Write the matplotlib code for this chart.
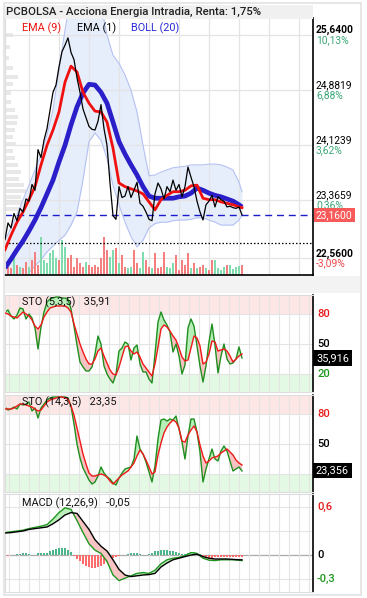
import numpy as np
import matplotlib
matplotlib.use("Agg")
import matplotlib.pyplot as plt
from matplotlib.patches import Rectangle
import matplotlib.transforms as mtransforms

plt.rcParams['font.family'] = ['Roboto', 'DejaVu Sans']

W, H = 367, 598

# ---------------- data ----------------
price = [22.82, 23.05, 22.98, 23.18, 23.08, 23.25, 23.20, 23.38, 23.35, 23.58,
         23.50, 24.06, 23.95, 24.19, 24.35, 24.60, 24.85, 24.95, 25.20, 25.41,
         25.50, 25.60, 25.40, 25.30, 25.05, 24.85, 24.62, 24.50, 24.38, 24.34,
         24.33, 24.45, 24.68, 24.35, 24.12, 23.60, 23.15, 23.10, 23.55, 23.40,
         23.42, 23.55, 23.40, 23.50, 23.61, 23.32, 23.28, 23.20, 23.10, 23.08,
         23.45, 23.60, 23.52, 23.38, 23.55, 23.48, 23.64, 23.50, 23.58, 23.41,
         23.55, 23.82, 23.68, 23.55, 23.35, 23.20, 23.09, 23.30, 23.35, 23.43,
         23.27, 23.41, 23.37, 23.35, 23.27, 23.28, 23.26, 23.25, 23.27, 23.16]

smooth_idx = list(range(0, 80, 2)) + [79]
ema9 = [22.68, 22.88, 23.06, 23.20, 23.37, 23.55, 23.85, 24.12, 24.33, 24.58,
        24.99, 25.21, 25.13, 24.85, 24.70, 24.59, 24.58, 24.44, 24.08, 23.60,
        23.55, 23.52, 23.49, 23.45, 23.34, 23.23, 23.37, 23.43, 23.48, 23.48,
        23.50, 23.56, 23.57, 23.39, 23.37, 23.37, 23.34, 23.32, 23.30, 23.27, 23.26]
boll_mid = [22.43, 22.55, 22.68, 22.80, 22.94, 23.09, 23.26, 23.45, 23.64, 23.89,
            24.12, 24.40, 24.65, 24.84, 24.96, 24.95, 24.85, 24.70, 24.44, 24.17,
            24.00, 23.85, 23.71, 23.55, 23.42, 23.39, 23.39, 23.39, 23.39, 23.41,
            23.42, 23.46, 23.53, 23.50, 23.46, 23.43, 23.41, 23.38, 23.35, 23.30, 23.27]
boll_up = [22.81, 22.98, 23.16, 23.37, 23.57, 23.78, 23.99, 24.26, 24.61, 25.16,
           25.71, 26.19, 26.40, 26.47, 26.47, 26.33, 26.05, 25.64, 25.36, 25.25,
           25.09, 24.88, 24.58, 24.12, 23.70, 23.71, 23.75, 23.78, 23.81, 23.82,
           23.83, 23.85, 23.85, 23.85, 23.86, 23.86, 23.85, 23.82, 23.78, 23.61, 23.48]
boll_lo = [21.99, 22.06, 22.15, 22.24, 22.36, 22.46, 22.54, 22.65, 22.73, 22.81,
           22.88, 23.02, 23.20, 23.64, 24.17, 24.29, 24.19, 23.94, 23.57, 23.30,
           23.06, 22.86, 22.72, 22.81, 22.98, 23.04, 23.06, 23.06, 23.08, 23.09,
           23.09, 23.10, 23.12, 23.12, 23.09, 23.06, 23.02, 23.02, 23.02, 23.09, 23.16]

volume = [23, 8, 7, 20, 10, 8, 7, 13, 8, 15, 23, 10, 38, 15, 12, 22, 25, 17, 15, 35,
          28, 17, 20, 8, 17, 12, 8, 13, 10, 8, 10, 8, 17, 38, 25, 18, 25, 27, 12, 20,
          8, 7, 8, 25, 12, 7, 23, 15, 8, 7, 22, 7, 8, 23, 8, 7, 12, 20, 5, 15,
          10, 22, 7, 12, 7, 8, 10, 7, 5, 15, 15, 7, 5, 8, 10, 10, 6, 8, 9, 10]
vol_dir = "grrgrgrrgrrrggggggrggrrrrrrgrrrrrrrggrgrrggrrggrrgrrrrggg" \
          "rrrrrgrgrrgrrggggrggg"
vol_avg = 32

profile_price = [25.64, 25.47, 25.32, 25.19, 25.06, 24.96, 24.84, 24.72, 24.61, 24.51,
                 24.43, 24.33, 24.23, 24.14, 24.04, 23.94, 23.85, 23.75, 23.66, 23.57,
                 23.49, 23.41, 23.32, 23.24]
profile_vol = [8, 5, 4, 8, 13, 8, 6, 6, 10, 13, 12, 10, 8, 11, 8, 10, 13, 16, 14, 19,
               21, 16, 26, 30]

sto5_k = [82, 84, 78, 75, 79, 86, 85, 75, 80, 76, 66, 45, 67, 82, 92, 95, 96, 97, 97, 96,
          96, 95, 85, 68, 49, 32, 27, 23, 23, 27, 40, 58, 50, 28, 20, 15, 11, 20, 43, 46,
          52, 50, 34, 46, 49, 30, 22, 22, 15, 11, 40, 72, 82, 74, 69, 62, 42, 50, 38, 20,
          29, 66, 75, 68, 48, 28, 12, 28, 52, 70, 49, 21, 38, 50, 35, 30, 31, 35, 47, 36]
sto5_d = [81, 80, 78, 77, 76, 79, 82, 80, 78, 74, 68, 65, 69, 77, 82, 86, 87, 88, 88, 88,
          88, 86, 82, 70, 60, 50, 42, 35, 30, 30, 35, 43, 46, 38, 31, 24, 20, 19, 27, 37,
          47, 48, 43, 40, 42, 37, 30, 26, 22, 18, 30, 47, 65, 69, 67, 63, 58, 54, 46, 37,
          33, 34, 46, 58, 56, 48, 30, 32, 40, 53, 52, 43, 44, 45, 43, 38, 32, 35, 38, 40]
sto14_k = [87, 84, 85, 87, 85, 90, 89, 90, 92, 83, 86, 76, 86, 90, 94, 96, 97, 97, 97, 97,
           97, 96, 88, 70, 50, 36, 26, 20, 14, 10, 12, 18, 27, 21, 17, 15, 11, 9, 16, 21,
           25, 26, 27, 35, 58, 45, 40, 32, 22, 12, 28, 55, 74, 75, 73, 75, 74, 78, 65, 52,
           35, 58, 75, 75, 62, 42, 12, 25, 35, 45, 35, 33, 43, 48, 43, 33, 23, 25, 27, 23]
sto14_d = [85, 85, 85, 86, 88, 90, 90, 89, 88, 87, 85, 83, 84, 88, 92, 94, 95, 96, 97, 97,
           96, 95, 88, 79, 66, 53, 40, 30, 21, 18, 18, 19, 20, 19, 17, 13, 10, 13, 16, 19,
           21, 23, 27, 31, 38, 44, 40, 34, 27, 20, 22, 39, 51, 61, 67, 71, 74, 72, 66, 53,
           52, 59, 64, 68, 62, 49, 38, 31, 33, 36, 37, 38, 41, 43, 45, 42, 39, 34, 31, 29]

macd_line = [0.28, 0.29, 0.30, 0.31, 0.33, 0.345, 0.36, 0.38, 0.45, 0.53,
             0.59, 0.57, 0.43, 0.28, 0.14, 0.06, 0.02, -0.08, -0.25, -0.32,
             -0.29, -0.26, -0.23, -0.22, -0.23, -0.19, -0.11, -0.06, -0.04, -0.03,
             -0.01, 0.03, 0.02, -0.04, -0.065, -0.07, -0.06, -0.06, -0.06, -0.065, -0.07]
macd_signal = [0.275, 0.28, 0.29, 0.30, 0.32, 0.33, 0.34, 0.35, 0.39, 0.44,
               0.50, 0.53, 0.52, 0.42, 0.32, 0.19, 0.11, 0.05, -0.06, -0.18,
               -0.25, -0.27, -0.26, -0.25, -0.245, -0.23, -0.15, -0.10, -0.06, -0.04,
               -0.02, 0.0, 0.01, -0.02, -0.04, -0.05, -0.05, -0.05, -0.055, -0.06, -0.06]
macd_hist = [-0.012, -0.012, -0.006, 0.006, 0.012, 0.012, 0.019, 0.019, 0.012, 0.006,
             0.006, 0.019, 0.025, 0.025, 0.031, 0.050, 0.062, 0.075, 0.088, 0.088,
             0.088, 0.062, 0.038, -0.012, -0.050, -0.075, -0.112, -0.138, -0.150, -0.162,
             -0.162, -0.150, -0.138, -0.112, -0.088, -0.062, -0.038, -0.025, -0.012, -0.006,
             0.006, 0.012, 0.025, 0.025, 0.019, 0.012, 0.006, 0.0, 0.012, 0.025,
             0.044, 0.056, 0.062, 0.062, 0.062, 0.056, 0.050, 0.038, 0.025, 0.012,
             0.012, 0.025, 0.038, 0.038, 0.031, 0.012, -0.012, -0.031, -0.038, -0.038,
             -0.031, -0.025, -0.025, -0.025, -0.019, -0.019, -0.019, -0.019, -0.019, -0.019]

date_pos = [5.3, 15.7, 25.7, 35.7, 44.7, 54.7, 65.7, 74.3, 82.7, 92.7]
date_labels = ["17", "22", "25", "30", "4", "7", "12", "14", "19", "22"]

price_levels = [25.64, 24.8819, 24.1239, 23.3659, 22.56]
price_level_txt = ["25,6400", "24,8819", "24,1239", "23,3659", "22,5600"]
price_pct_txt = ["10,13%", "6,88%", "3,62%", "0,36%", "-3,09%"]
last_price = 23.16
last_price_txt = "23,1600"

sto5_last, sto5_last_txt, sto5_hdr = 35.916, "35,916", "35,91"
sto14_last, sto14_last_txt, sto14_hdr = 23.356, "23,356", "23,35"
macd_hdr = "-0,05"

title = "PCBOLSA - Acciona Energia Intradia, Renta: 1,75%"

# ---------------- layout helpers ----------------
t = np.arange(len(price))
ts = np.array(smooth_idx)
XMAX = 102.67
VOL_TOP = 257.0
PROF_TOP = 308.0

fig = plt.figure(figsize=(W / 100, H / 100), dpi=100)
fig.patch.set_facecolor('white')


def rect(top, bottom, left=5, right=313):
    return [left / W, 1 - bottom / H, (right - left) / W, (bottom - top) / H]


def figrect(x0, y0, x1, y1, **kw):
    fig.patches.append(Rectangle((x0 / W, 1 - y1 / H), (x1 - x0) / W, (y1 - y0) / H,
                                 transform=fig.transFigure, **kw))


# decorations
figrect(5, 5, 313, 19, fc='#f0f0f0', ec='none', zorder=0)
figrect(5, 276, 360, 293, fc='#f3f3f3', ec='none', zorder=0)
figrect(4, 3, 361, 595, fc='none', ec='#e2e2e2', lw=1.2, zorder=0)

GRID = '#e4e4e4'
GREEN_TXT = '#3aa776'
RED_TXT = '#f04848'


def style_axis(a):
    a.set_facecolor('none')
    for s in ['top', 'left']:
        a.spines[s].set_color('#dddddd')
        a.spines[s].set_linewidth(0.8)
    a.spines['right'].set_color('black')
    a.spines['right'].set_linewidth(1.2)
    a.spines['bottom'].set_color('#dddddd')
    a.tick_params(axis='both', which='both', length=0, labelleft=False,
                  labelright=False, labelbottom=False)
    a.set_xlim(0, XMAX)


# ---------------- main panel ----------------
ax = fig.add_axes(rect(18, 275))
style_axis(ax)
ax.spines['bottom'].set_color('black')
ax.spines['bottom'].set_linewidth(1.2)
ax.spines['top'].set_visible(False)
ax.set_ylim(22.332, 25.874)

ax.set_xticks(np.arange(8, XMAX, 10), minor=True)
ax.set_yticks(price_levels)
ax.grid(True, which='minor', axis='x', color=GRID, lw=0.9, zorder=0)
ax.grid(True, which='major', axis='y', color=GRID, lw=0.9, zorder=0)
ax.set_axisbelow(True)

# volume-at-price profile
trans_prof = mtransforms.blended_transform_factory(ax.transAxes, ax.transData)
ax.barh(profile_price, np.array(profile_vol) / PROF_TOP, height=0.055, left=0,
        color='#e8e8e8', transform=trans_prof, zorder=0.3)

# bollinger band
ax.fill_between(ts, boll_lo, boll_up, color='#e6eefc', lw=0, zorder=0.5)
ax.plot(ts, boll_up, color='#b5c2f2', lw=0.8, zorder=0.6)
ax.plot(ts, boll_lo, color='#b5c2f2', lw=0.8, zorder=0.6)

# volume bars
trans_vol = mtransforms.blended_transform_factory(ax.transData, ax.transAxes)
vcol = ['#80dcae' if c == 'g' else '#f47f7f' for c in vol_dir]
ax.bar(t, np.array(volume) / VOL_TOP, width=0.72, bottom=0, color=vcol,
       transform=trans_vol, zorder=1)
ax.plot([0, 1], [vol_avg / VOL_TOP] * 2, transform=ax.transAxes, color='black',
        lw=0.9, ls=(0, (1.2, 1.6)), zorder=1.5)

ax.axhline(last_price, color='#1c1ccc', lw=1.0, ls=(0, (5, 3.5)), zorder=1.6)

ax.plot(ts, boll_mid, color='#2a1fc8', lw=3.4, zorder=2, solid_capstyle='butt')
ax.plot(ts, ema9, color='#f01010', lw=2.0, zorder=3)
ax.plot(t, price, color='black', lw=0.9, zorder=4)

# legend texts
ax.text(17 / 308, 1 - 10 / 257, "EMA (9)", color='#ee1111', fontsize=7.8,
        transform=ax.transAxes, va='center', ha='left')
ax.text(72 / 308, 1 - 10 / 257, "EMA (1)", color='black', fontsize=7.8,
        transform=ax.transAxes, va='center', ha='left')
ax.text(126 / 308, 1 - 10 / 257, "BOLL (20)", color='#2a2ad8', fontsize=7.8,
        transform=ax.transAxes, va='center', ha='left')

# right price labels
trans_r = mtransforms.blended_transform_factory(ax.transAxes, ax.transData)
for i, (lv, lt, pt) in enumerate(zip(price_levels, price_level_txt, price_pct_txt)):
    bold = i in (0, len(price_levels) - 1)
    ax.annotate(lt, xy=(1, lv), xycoords=trans_r, xytext=(3, 5),
                textcoords='offset pixels', fontsize=7.4, color='black',
                fontweight='bold' if bold else 'normal',
                va='center', ha='left', annotation_clip=False)
    ax.annotate(pt, xy=(1, lv), xycoords=trans_r, xytext=(3, -5),
                textcoords='offset pixels', fontsize=7.4,
                color=RED_TXT if pt.startswith('-') else GREEN_TXT,
                va='center', ha='left', annotation_clip=False)
ax.annotate(last_price_txt, xy=(1, last_price), xycoords=trans_r, xytext=(3, 0),
            textcoords='offset pixels', fontsize=7.4, color='white',
            va='center', ha='left', annotation_clip=False, zorder=10,
            bbox=dict(boxstyle='square,pad=0.22', fc='#f85a5a', ec='none'))

# date labels
for p, lab in zip(date_pos, date_labels):
    ax.annotate(lab, xy=(p, 0), xycoords=trans_vol, xytext=(0, -9),
                textcoords='offset pixels', ha='center', va='center',
                fontsize=7.6, color='#333333', annotation_clip=False)

fig.text(6 / W, 1 - 12 / H, title, fontsize=8.2, fontweight='medium',
         color='#222222', va='center', ha='left')


# ---------------- stochastic panels ----------------
def sto_panel(top, bottom, k, d, hdr_name, hdr_val, last, last_txt):
    a = fig.add_axes(rect(top, bottom))
    style_axis(a)
    a.set_ylim(2, 99)
    a.axhspan(80, 100, color='#fde6e6', lw=0, zorder=0)
    a.axhspan(0, 20, color='#e3f9e3', lw=0, zorder=0)
    a.set_xticks(np.arange(4 / 3, XMAX, 10 / 3), minor=True)
    a.set_yticks([20, 50, 80])
    a.grid(True, which='minor', axis='x', color=GRID, lw=0.8, zorder=0.2)
    a.grid(True, which='major', axis='y', color=GRID, lw=0.8, zorder=0.2)
    a.set_axisbelow(True)
    k = np.array(k, float)
    d = np.array(d, float)
    a.fill_between(t, k, d, where=k >= d, interpolate=True, color='#b8eeb8', lw=0, zorder=1)
    a.fill_between(t, k, d, where=k < d, interpolate=True, color='#f7c2c2', lw=0, zorder=1)
    a.plot(t, k, color='#1f8f1f', lw=1.0, zorder=2)
    a.plot(t, d, color='#f01818', lw=1.0, zorder=3)
    a.text(17 / 308, 1 - 7 / (bottom - top), f"{hdr_name}   {hdr_val}", fontsize=7.8,
           color='#111111', transform=a.transAxes, va='center', ha='left', zorder=5)
    tr = mtransforms.blended_transform_factory(a.transAxes, a.transData)
    for lv, col in zip([80, 50, 20], ['#e81a1a', 'black', '#1e961e']):
        if abs(lv - last) < 9:
            continue  # hidden behind the last-value box, as in the reference
        a.annotate(str(lv), xy=(1, lv), xycoords=tr, xytext=(4, 0),
                   textcoords='offset pixels', fontsize=8, color=col,
                   fontweight='medium', va='center', ha='left', annotation_clip=False)
    a.annotate(last_txt, xy=(1, last), xycoords=tr, xytext=(3, 0),
               textcoords='offset pixels', fontsize=7.8, color='white',
               va='center', ha='left', annotation_clip=False, zorder=10,
               bbox=dict(boxstyle='square,pad=0.25', fc='black', ec='none'))
    return a


sto_panel(295, 392, sto5_k, sto5_d, "STO (5,3,5)", sto5_hdr, sto5_last, sto5_last_txt)
sto_panel(395, 492, sto14_k, sto14_d, "STO (14,3,5)", sto14_hdr, sto14_last, sto14_last_txt)

# ---------------- MACD ----------------
am = fig.add_axes(rect(494, 592))
style_axis(am)
am.set_ylim(-0.4625, 0.7625)
am.set_xticks(np.arange(4 / 3, XMAX, 10 / 3), minor=True)
am.set_yticks([-0.3, 0.3, 0.6])
am.grid(True, which='minor', axis='x', color=GRID, lw=0.8, zorder=0.2)
am.grid(True, which='major', axis='y', color=GRID, lw=0.8, zorder=0.2)
am.set_axisbelow(True)
am.axhline(0, color='#aaaaaa', lw=0.9, zorder=0.5)
hcol = ['#4cb58c' if v >= 0 else '#ff6a6a' for v in macd_hist]
am.bar(t, macd_hist, width=0.6, color=hcol, zorder=1)
ml = np.array(macd_line)
ms = np.array(macd_signal)
am.fill_between(ts, ml, ms, where=ml >= ms, interpolate=True, color='#bdefbd', lw=0, zorder=1.5)
am.fill_between(ts, ml, ms, where=ml < ms, interpolate=True, color='#f8c4c4', lw=0, zorder=1.5)
am.plot(ts, ml, color='#1f961f', lw=1.0, zorder=2)
am.plot(ts, ms, color='black', lw=1.0, zorder=3)
am.text(17 / 308, 1 - 9 / 98, f"MACD (12,26,9)   {macd_hdr}", fontsize=7.8, color='#111111',
        transform=am.transAxes, va='center', ha='left', zorder=5)
trm = mtransforms.blended_transform_factory(am.transAxes, am.transData)
for lv, txt, col in zip([0.6, 0.0, -0.3], ['0,6', '0', '-0,3'], ['#e81a1a', 'black', '#1e961e']):
    am.annotate(txt, xy=(1, lv), xycoords=trm, xytext=(4, 0), textcoords='offset pixels',
                fontsize=8, color=col, fontweight='medium', va='center', ha='left',
                annotation_clip=False)

fig.savefig("out.png", dpi=100, facecolor='white')
